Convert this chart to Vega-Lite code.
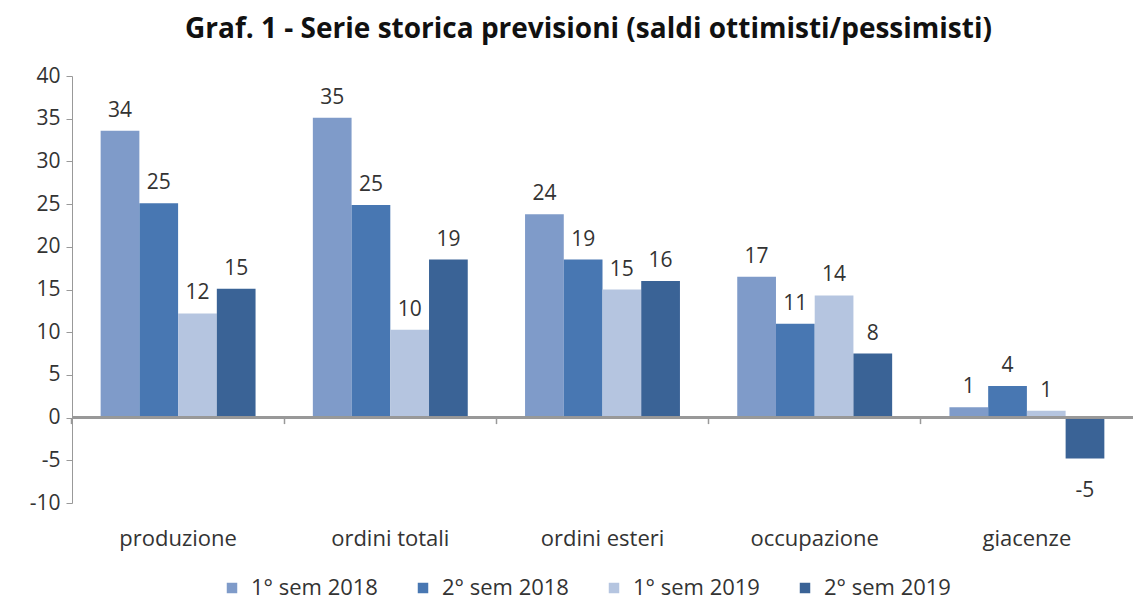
{
  "$schema": "https://vega.github.io/schema/vega-lite/v6.json",
  "width": 1061,
  "height": 427,
  "autosize": {"type": "none"},
  "padding": {"left": 72, "top": 76, "right": 0, "bottom": 100},
  "background": "white",
  "title": {"text": "Graf. 1 - Serie storica previsioni (saldi ottimisti/pessimisti)", "font": "Open Sans", "fontSize": 28, "fontWeight": "bold", "color": "#111111", "anchor": "middle", "offset": 21, "dx": -14},
  "config": {"view": {"stroke": null}, "font": "Open Sans"},
  "data": {"values": [
    {"voce": "produzione", "periodo": "1° sem 2018", "valore": 33.6, "etichetta": "34"},
    {"voce": "produzione", "periodo": "2° sem 2018", "valore": 25.1, "etichetta": "25"},
    {"voce": "produzione", "periodo": "1° sem 2019", "valore": 12.2, "etichetta": "12"},
    {"voce": "produzione", "periodo": "2° sem 2019", "valore": 15.1, "etichetta": "15"},
    {"voce": "ordini totali", "periodo": "1° sem 2018", "valore": 35.1, "etichetta": "35"},
    {"voce": "ordini totali", "periodo": "2° sem 2018", "valore": 24.9, "etichetta": "25"},
    {"voce": "ordini totali", "periodo": "1° sem 2019", "valore": 10.3, "etichetta": "10"},
    {"voce": "ordini totali", "periodo": "2° sem 2019", "valore": 18.5, "etichetta": "19"},
    {"voce": "ordini esteri", "periodo": "1° sem 2018", "valore": 23.8, "etichetta": "24"},
    {"voce": "ordini esteri", "periodo": "2° sem 2018", "valore": 18.5, "etichetta": "19"},
    {"voce": "ordini esteri", "periodo": "1° sem 2019", "valore": 15.0, "etichetta": "15"},
    {"voce": "ordini esteri", "periodo": "2° sem 2019", "valore": 16.0, "etichetta": "16"},
    {"voce": "occupazione", "periodo": "1° sem 2018", "valore": 16.5, "etichetta": "17"},
    {"voce": "occupazione", "periodo": "2° sem 2018", "valore": 11.0, "etichetta": "11"},
    {"voce": "occupazione", "periodo": "1° sem 2019", "valore": 14.3, "etichetta": "14"},
    {"voce": "occupazione", "periodo": "2° sem 2019", "valore": 7.5, "etichetta": "8"},
    {"voce": "giacenze", "periodo": "1° sem 2018", "valore": 1.2, "etichetta": "1"},
    {"voce": "giacenze", "periodo": "2° sem 2018", "valore": 3.7, "etichetta": "4"},
    {"voce": "giacenze", "periodo": "1° sem 2019", "valore": 0.8, "etichetta": "1"},
    {"voce": "giacenze", "periodo": "2° sem 2019", "valore": -4.8, "etichetta": "-5"}
  ]},
  "layer": [
    {
      "mark": {"type": "bar"},
      "encoding": {
        "x": {"field": "voce", "type": "nominal", "sort": ["produzione", "ordini totali", "ordini esteri", "occupazione", "giacenze"], "scale": {"paddingInner": 0.27, "paddingOuter": 0.135}, "axis": {"orient": "bottom", "title": null, "domain": false, "ticks": false, "labelAngle": 0, "labelFont": "Open Sans", "labelFontSize": 22, "labelColor": "#333333", "labelPadding": 25}},
        "xOffset": {"field": "periodo", "type": "nominal", "sort": ["1° sem 2018", "2° sem 2018", "1° sem 2019", "2° sem 2019"], "scale": {"paddingInner": 0, "paddingOuter": 0}},
        "y": {"field": "valore", "type": "quantitative", "scale": {"domain": [-10, 40], "nice": false, "zero": false}, "axis": {"title": null, "values": [-10, -5, 0, 5, 10, 15, 20, 25, 30, 35, 40], "labelExpr": "datum.value", "grid": false, "domainColor": "#999999", "tickColor": "#999999", "tickSize": 6, "labelPadding": 6, "labelFont": "Open Sans", "labelFontSize": 21, "labelColor": "#333333"}},
        "color": {"field": "periodo", "type": "nominal", "scale": {"domain": ["1° sem 2018", "2° sem 2018", "1° sem 2019", "2° sem 2019"], "range": ["#7f9bc9", "#4877b2", "#b5c5e0", "#3a6396"]}, "legend": {"title": null, "orient": "none", "legendX": 149, "legendY": 501, "direction": "horizontal", "symbolType": "square", "symbolSize": 110, "symbolStrokeWidth": 0, "labelFont": "Open Sans", "labelFontSize": 22, "labelColor": "#333333", "columnPadding": 34, "labelOffset": 8}}
      }
    },
    {
      "mark": {"type": "rule", "color": "#999999", "strokeWidth": 1.5},
      "encoding": {"y": {"datum": 0}}
    },
    {
      "transform": [{"filter": "datum.valore >= 0"}],
      "mark": {"type": "text", "baseline": "alphabetic", "dy": -14, "font": "Open Sans", "fontSize": 21, "color": "#333333"},
      "encoding": {
        "x": {"field": "voce", "type": "nominal", "sort": ["produzione", "ordini totali", "ordini esteri", "occupazione", "giacenze"], "axis": null},
        "xOffset": {"field": "periodo", "type": "nominal", "sort": ["1° sem 2018", "2° sem 2018", "1° sem 2019", "2° sem 2019"]},
        "y": {"field": "valore", "type": "quantitative"},
        "text": {"field": "etichetta", "type": "nominal"}
      }
    },
    {
      "transform": [{"filter": "datum.valore < 0"}],
      "mark": {"type": "text", "baseline": "top", "dy": 21, "font": "Open Sans", "fontSize": 21, "color": "#333333"},
      "encoding": {
        "x": {"field": "voce", "type": "nominal", "sort": ["produzione", "ordini totali", "ordini esteri", "occupazione", "giacenze"], "axis": null},
        "xOffset": {"field": "periodo", "type": "nominal", "sort": ["1° sem 2018", "2° sem 2018", "1° sem 2019", "2° sem 2019"]},
        "y": {"field": "valore", "type": "quantitative"},
        "text": {"field": "etichetta", "type": "nominal"}
      }
    },
    {
      "mark": {"type": "text", "text": ""},
      "encoding": {
        "x": {"field": "voce", "type": "nominal", "sort": ["produzione", "ordini totali", "ordini esteri", "occupazione", "giacenze"], "axis": {"orient": "bottom", "title": null, "labels": false, "domain": false, "ticks": true, "bandPosition": -0.185, "tickSize": 6, "tickColor": "#999999", "tickWidth": 1.5, "offset": -85.4}},
        "y": {"datum": 0}
      }
    }
  ],
  "resolve": {"axis": {"x": "independent"}}
}
